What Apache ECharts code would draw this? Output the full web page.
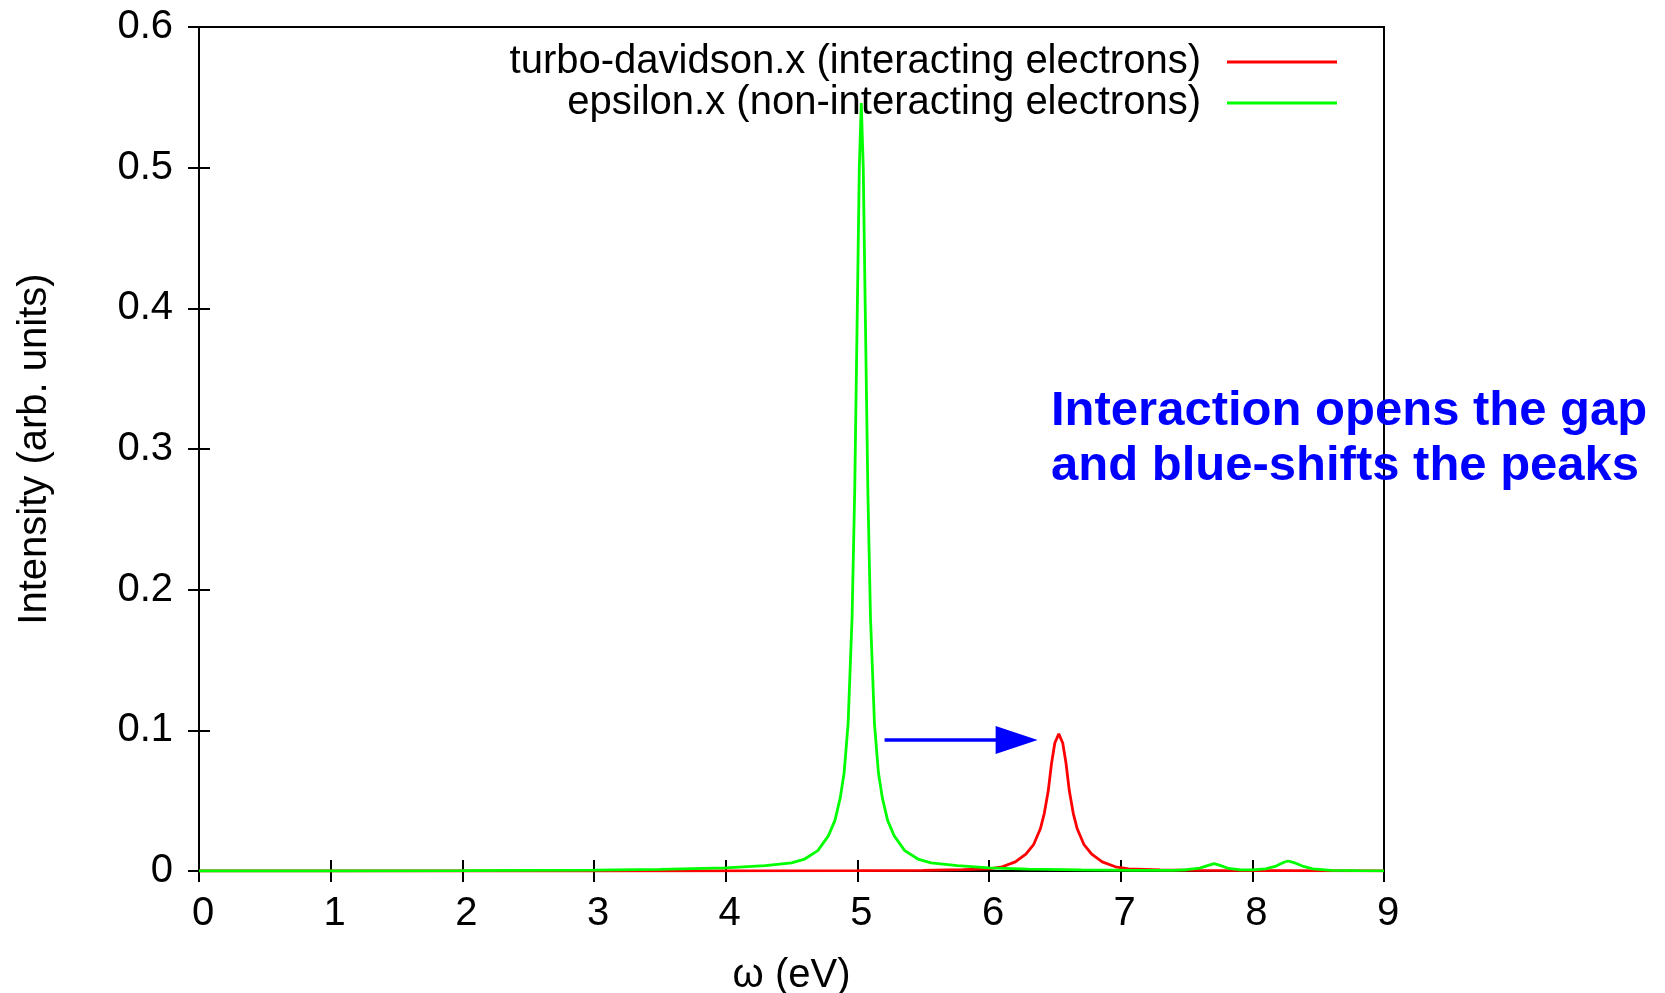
<!DOCTYPE html>
<html>
<head>
<meta charset="utf-8">
<title>spectrum</title>
<script src="https://cdn.jsdelivr.net/npm/echarts@6/dist/echarts.min.js"></script>
<style>
  html, body { margin: 0; padding: 0; background: #fff; }
  #main { width: 1665px; height: 993px; }
</style>
</head>
<body>
<div id="main"></div>
<script>
// 轴刻度
var xTicks = [0, 1, 2, 3, 4, 5, 6, 7, 8, 9];
var yTicks = [0, 0.1, 0.2, 0.3, 0.4, 0.5, 0.6];

// turbo-davidson.x (红线)
var redX = [0, 3, 5, 5.5, 5.8, 6.0, 6.1, 6.2, 6.28, 6.34, 6.39, 6.42, 6.45, 6.475, 6.5, 6.53,
  6.56, 6.585, 6.61, 6.64, 6.67, 6.72, 6.78, 6.86, 6.96, 7.06, 7.3, 7.6, 8.2, 9];
var redY = [0, 0, 0.0002, 0.0005, 0.001, 0.0015, 0.003, 0.0065, 0.012, 0.019, 0.03, 0.041, 0.057, 0.0766, 0.091, 0.0975,
  0.091, 0.0766, 0.057, 0.041, 0.03, 0.019, 0.012, 0.0065, 0.003, 0.0015, 0.0008, 0.0004, 0.0002, 0.0001];

// epsilon.x (绿线)
var greenX = [0, 1, 2, 3, 3.5, 4.0, 4.3, 4.5, 4.6, 4.7, 4.78, 4.83, 4.87, 4.9, 4.93, 4.96, 4.98, 5.0, 5.015, 5.03,
  5.045, 5.06, 5.08, 5.10, 5.13, 5.16, 5.19, 5.23, 5.28, 5.36, 5.46, 5.56, 5.76, 6.0, 6.3, 6.7, 7.1, 7.4,
  7.5, 7.6, 7.66, 7.71, 7.76, 7.82, 7.9, 8.0, 8.1, 8.18, 8.24, 8.27, 8.31, 8.38, 8.46, 8.6, 8.8, 9];
var greenY = [0, 0, 0.0002, 0.0006, 0.0011, 0.0022, 0.0038, 0.0058, 0.0085, 0.0145, 0.025, 0.036, 0.052, 0.07, 0.105, 0.18, 0.27, 0.40, 0.50, 0.546,
  0.50, 0.40, 0.27, 0.18, 0.105, 0.07, 0.052, 0.036, 0.025, 0.0145, 0.0085, 0.0058, 0.0038, 0.0022, 0.0013, 0.0008, 0.0005, 0.0005,
  0.0009, 0.002, 0.0038, 0.0053, 0.0038, 0.0018, 0.0009, 0.0008, 0.0015, 0.0035, 0.0062, 0.0071, 0.0062, 0.0035, 0.0015, 0.0005, 0.0002, 0.0001];

// 箭头 起点/终点
var arrowFrom = [5.207, 0.0931];
var arrowTo = [6.21, 0.0931];

var seriesNames = ['turbo-davidson.x (interacting electrons)', 'epsilon.x (non-interacting electrons)'];
var noteLines = ['Interaction opens the gap', 'and blue-shifts the peaks'];

function pairs(xs, ys) {
  var out = [];
  for (var i = 0; i < xs.length; i++) {
    out.push([xs[i], ys[i]]);
  }
  return out;
}

var FONT = "'Liberation Sans', Arial, sans-serif";
var chart = echarts.init(document.getElementById('main'), null, { renderer: 'canvas' });

var tickStyle = { show: true, inside: true, length: 11, lineStyle: { color: '#000', width: 2 } };

var option = {
  backgroundColor: '#fff',
  animation: false,
  grid: {
    left: 199, top: 27, width: 1185, height: 844,
    outerBoundsMode: 'none',
    containLabel: false,
    show: true, borderColor: '#000', borderWidth: 2, backgroundColor: 'transparent'
  },
  legend: {
    orient: 'vertical',
    align: 'right',
    right: 323,
    top: 37,
    icon: 'rect',
    itemWidth: 110,
    itemHeight: 3,
    itemGap: 1,
    textStyle: { fontFamily: FONT, fontSize: 40, color: '#000', lineHeight: 40, padding: [0, 21, 0, 0] },
    data: seriesNames
  },
  xAxis: [{
    type: 'value',
    min: xTicks[0], max: xTicks[xTicks.length - 1], interval: 1,
    name: 'ω (eV)',
    nameLocation: 'middle',
    nameGap: 85,
    nameTextStyle: { fontFamily: FONT, fontSize: 40, color: '#000' },
    axisLine: { show: false },
    axisTick: tickStyle,
    splitLine: { show: false },
    axisLabel: { fontFamily: FONT, fontSize: 40, color: '#000', margin: 23, padding: [0, 0, 0, 8] }
  }, {
    type: 'value', position: 'top',
    min: xTicks[0], max: xTicks[xTicks.length - 1], interval: 1,
    axisLine: { show: false }, axisTick: tickStyle, splitLine: { show: false },
    axisLabel: { show: false }
  }],
  yAxis: [{
    type: 'value',
    min: yTicks[0], max: yTicks[yTicks.length - 1], interval: 0.1,
    name: 'Intensity (arb. units)',
    nameLocation: 'middle',
    nameGap: 144,
    nameTextStyle: { fontFamily: FONT, fontSize: 40, color: '#000' },
    axisLine: { show: false },
    axisTick: tickStyle,
    splitLine: { show: false },
    axisLabel: { fontFamily: FONT, fontSize: 40, color: '#000', margin: 26 }
  }, {
    type: 'value', position: 'right',
    min: yTicks[0], max: yTicks[yTicks.length - 1], interval: 0.1,
    axisLine: { show: false }, axisTick: tickStyle, splitLine: { show: false },
    axisLabel: { show: false }
  }],
  series: [{
    name: seriesNames[0],
    type: 'line',
    symbol: 'none',
    color: '#ff0000',
    lineStyle: { color: '#ff0000', width: 2.8 },
    data: pairs(redX, redY),
    z: 2
  }, {
    name: seriesNames[1],
    type: 'line',
    symbol: 'none',
    color: '#00ff00',
    lineStyle: { color: '#00ff00', width: 2.8 },
    data: pairs(greenX, greenY),
    z: 3,
    markLine: {
      silent: true,
      symbol: ['none', 'triangle'],
      symbolSize: [28, 42],
      label: { show: false },
      lineStyle: { color: '#0000ff', width: 3.5, type: 'solid' },
      data: [[{ coord: arrowFrom }, { coord: arrowTo }]]
    }
  }],
  graphic: [{
    type: 'text',
    left: 1051,
    top: 384,
    z: 100,
    style: {
      text: noteLines.join('\n'),
      font: 'bold 49px ' + FONT,
      fill: '#0000ff',
      lineHeight: 55
    }
  }]
};

chart.setOption(option);
</script>
</body>
</html>
